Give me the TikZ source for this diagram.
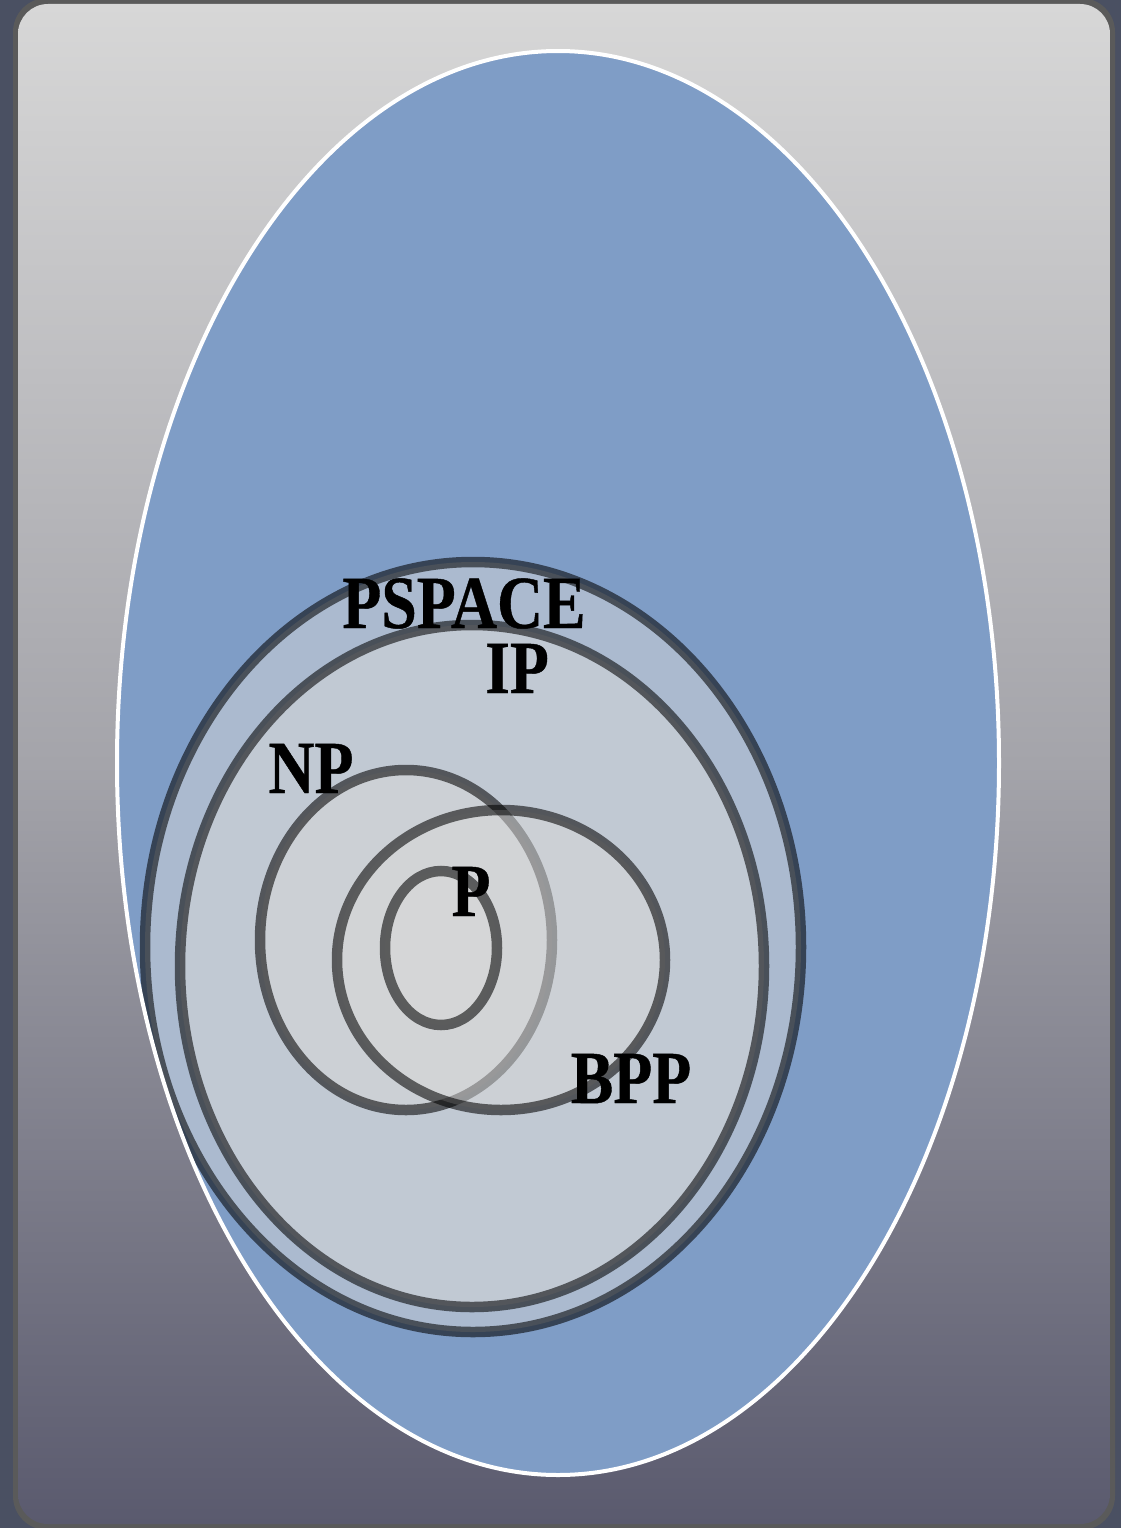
\documentclass[tikz,border=0pt]{standalone}
\usepackage{fontspec}
\setmainfont{Liberation Serif}
\newfontfamily\labelfont[BoldFeatures={FakeBold=0.6}]{Liberation Serif}
\usepackage{graphicx}
\definecolor{outerbg}{HTML}{4A5062}
\definecolor{frameedge}{HTML}{5A5A5A}
\definecolor{paneltop}{HTML}{D7D7D7}
\definecolor{panelmid}{HTML}{A4A4AA}
\definecolor{panelbot}{HTML}{5A5A6E}
\definecolor{eggblue}{HTML}{7F9DC6}
\definecolor{setfill}{HTML}{D8D8D8}
\tikzset{
  classset/.style={fill=setfill, fill opacity=0.5, draw=black, draw opacity=0.57, line width=10.5pt},
  classlabel/.style={anchor=base, inner sep=0pt, font=\labelfont\bfseries\fontsize{75}{80}\selectfont, text=black}
}
\begin{document}
\begin{tikzpicture}[x=1pt,y=-1pt]
  % canvas
  \fill[outerbg] (0,0) rectangle (1121,1528);
  \useasboundingbox (0,0) rectangle (1121,1528);
  % panel
  \fill[frameedge, rounded corners=34pt] (13,-2) rectangle (1115,1530);
  \shade[top color=paneltop, bottom color=panelbot, middle color=panelmid, rounded corners=30pt] (18,4) rectangle (1110,1524);
  % big ellipse
  \fill[eggblue] (558,763) ellipse [x radius=441, y radius=712];
  \begin{scope}
    \clip (558,763) ellipse [x radius=441, y radius=712];
    \path[classset] (473,947) ellipse [x radius=328, y radius=385];
    \path[classset] (472,966) ellipse [x radius=292, y radius=341];
    \path[classset] (406,940) ellipse [x radius=146, y radius=170];
    \path[classset] (501,960) ellipse [x radius=164, y radius=150];
    \path[classset] (441,948) ellipse [x radius=56, y radius=77];
  \end{scope}
  \draw[white, line width=4pt] (558,763) ellipse [x radius=441, y radius=712];
  % labels
  \node[classlabel] (pspace) at (464,628) {\scalebox{0.85}[1]{PSPACE}};
  \node[classlabel] (ip) at (517,693) {\scalebox{0.85}[1]{IP}};
  \node[classlabel] (np) at (311,793) {\scalebox{0.85}[1]{NP}};
  \node[classlabel] (p) at (471,916) {\scalebox{0.85}[1]{P}};
  \node[classlabel] (bpp) at (631,1103) {\scalebox{0.85}[1]{BPP}};
\end{tikzpicture}
\end{document}
